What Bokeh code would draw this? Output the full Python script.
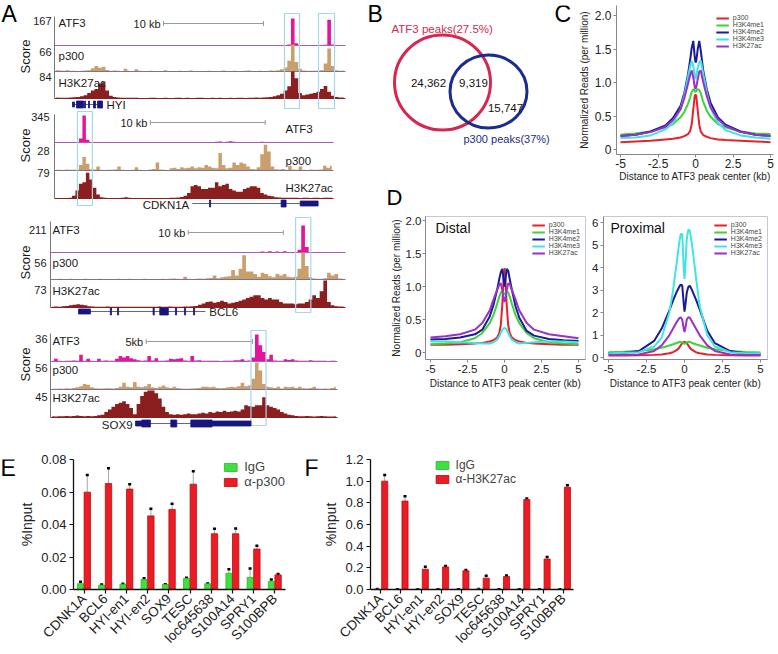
import math
import numpy as np
from bokeh.plotting import figure
from bokeh.models import (Range1d, FactorRange, Label, Legend, LegendItem, Whisker,
                          TeeHead, ColumnDataSource, FixedTicker, NumeralTickFormatter)
from bokeh.layouts import row, column
from bokeh.transform import dodge
from bokeh.embed import file_html
from bokeh.resources import INLINE
from bokeh.core.properties import value

FONT = "Liberation Sans"

# ---------------- Panel A data: coverage in 80 bins (% of track max) ----------------
track_names = ["ATF3", "p300", "H3K27ac"]
hyi_max = [167, 66, 84]
cdkn1a_max = [345, 28, 79]
bcl6_max = [211, 56, 73]
sox9_max = [36, 56, 45]

hyi_atf3 = [2,1,1,1,2,1,1,1,1,2, 1,1,1,1,2,1,1,1,1,1, 1,1,2,1,1,1,1,1,1,1, 1,2,1,1,1,1,1,1,1,1,
            1,1,1,2,1,1,1,1,1,1, 1,1,1,1,1,2,1,1,1,1, 1,1,1,1,4,100,8,2,1,1, 1,1,1,1,3,95,4,1,1,1]
hyi_p300 = [6,4,3,5,3,3,2,3,4,5, 12,20,14,18,6,3,4,3,2,10, 3,2,8,3,2,2,3,2,2,2, 5,2,2,2,3,2,2,4,2,2,
            2,2,3,2,2,2,4,2,2,3, 2,2,3,4,2,2,3,2,2,4, 3,5,8,15,40,100,35,10,4,3, 3,3,3,5,30,85,20,5,3,4]
hyi_k27ac = [4,3,3,3,4,5,6,8,12,20, 30,35,55,60,30,10,6,4,3,3, 3,3,3,2,2,2,3,3,2,2, 3,2,2,3,3,2,3,2,2,3,
             3,2,2,3,2,3,2,2,3,2, 3,3,2,3,3,4,3,4,5,6, 8,12,18,30,45,100,75,20,12,15, 18,20,25,35,46,25,10,6,4,4]

cdkn1a_atf3 = [1,1,1,1,1,2,1,15,100,10, 2,1,1,1,1,1,1,1,1,1, 1,1,1,1,1,1,1,1,1,1, 1,1,1,1,1,1,1,1,1,1,
               1,1,1,1,1,1,3,4,2,3, 5,3,2,2,1,1,1,1,2,3, 2,1,1,1,1,1,1,1,1,1, 1,1,1,1,1,1,1,1,1,1]
cdkn1a_p300 = [3,3,2,4,3,3,3,20,50,25, 5,4,15,3,2,3,3,4,15,3, 2,2,3,12,3,2,2,4,6,30, 4,3,2,8,10,6,12,8,10,15,
               8,12,10,20,15,10,8,65,20,8, 10,30,20,30,25,15,6,5,12,60, 95,70,15,5,4,6,3,18,4,3, 15,3,2,4,3,3,4,18,10,18]
cdkn1a_k27ac = [2,2,2,2,3,10,30,55,60,95, 70,40,15,5,3,2,2,2,2,3, 5,3,2,2,2,2,2,2,2,2, 2,2,2,3,3,4,6,10,20,45,
                50,45,35,35,40,40,60,45,50,55, 35,30,25,25,35,40,45,45,40,20, 15,10,8,5,4,3,3,3,3,3, 2,3,3,2,3,3,2,3,3,3]

bcl6_atf3 = [1,1,1,1,1,1,1,1,1,1, 1,1,1,1,1,1,1,1,1,1, 1,1,1,1,1,1,1,1,1,1, 1,1,1,1,1,1,1,1,1,1,
             1,1,1,1,1,1,1,1,2,1, 1,1,1,1,1,1,2,4,2,5, 2,4,2,5,1,1,2,10,100,20, 2,1,1,1,1,2,1,1,1,1]
bcl6_p300 = [2,2,3,2,2,3,2,2,2,3, 2,2,2,3,2,2,2,2,3,2, 2,3,2,2,2,3,2,2,2,2, 3,2,3,4,3,2,10,3,2,3,
             4,3,5,6,15,5,8,10,12,35, 15,40,90,30,30,20,10,25,20,12, 8,20,15,20,10,8,10,40,100,50, 8,4,3,3,5,25,15,20,4,3]
bcl6_k27ac = [3,4,3,5,6,8,10,12,10,8, 5,4,3,3,3,4,3,3,3,3, 3,3,3,3,3,3,3,3,3,4, 3,3,4,3,3,3,4,4,5,6,
              10,15,20,22,18,20,25,20,15,18, 20,25,30,35,40,45,45,35,30,35, 30,30,20,15,15,15,12,15,15,20, 30,45,35,60,100,20,8,5,4,4]

sox9_atf3 = [3,10,3,2,3,3,4,3,25,3, 10,3,2,10,3,4,3,3,10,20, 15,20,12,8,5,3,4,20,4,12, 3,3,4,10,8,10,12,4,3,20,
             4,5,3,3,3,3,3,2,3,3, 3,5,5,8,3,4,15,100,60,35, 8,25,4,3,3,8,6,8,4,3, 3,3,5,3,3,3,3,2,3,3]
sox9_p300 = [3,3,4,3,5,4,6,8,12,20, 18,8,5,4,4,5,5,4,6,10, 25,10,8,28,10,8,12,20,8,6, 10,15,8,6,10,6,4,3,3,4,
             5,6,10,10,8,10,6,5,6,8, 10,8,12,25,12,15,40,100,70,20, 10,8,6,10,4,10,8,10,6,10, 5,4,6,10,4,3,4,3,6,10]
sox9_k27ac = [5,4,5,5,6,5,6,7,6,5, 6,5,6,8,10,20,30,40,50,55, 60,50,35,12,50,80,95,100,100,90, 70,40,20,12,10,12,10,12,15,12,
              12,15,18,15,20,18,22,20,25,20, 22,25,22,30,45,42,40,45,45,75, 45,40,35,30,20,15,10,8,6,5, 5,6,5,4,5,6,5,4,4,5]

locus_window_kb = [29.1, 24.3, 31.05, 13.5]
scalebar_start_kb = [10.9, 8.35, 14.5, 4.5]
scalebar_kb = [10, 10, 10, 5]
scalebar_label = ["10 kb", "10 kb", "10 kb", "5kb"]

gene_names = ["HYI", "CDKN1A", "BCL6", "SOX9"]
hyi_gene_span = [1.8, 4.8]
hyi_exon_start = [1.8, 2.2, 3.0, 3.4, 3.9, 4.3]
hyi_exon_end = [2.0, 2.9, 3.1, 3.5, 4.1, 4.8]
hyi_exon_kind = ["utr", "cds", "cds", "cds", "cds", "cds"]
cdkn1a_gene_span = [12.0, 22.96]
cdkn1a_exon_start = [13.5, 19.74, 21.4]
cdkn1a_exon_end = [13.6, 20.17, 22.96]
cdkn1a_exon_kind = ["tick", "cds", "utr"]
bcl6_gene_span = [2.95, 16.3]
bcl6_exon_start = [2.95, 6.3, 7.05, 10.8, 11.5, 13.15, 14.1, 15.05]
bcl6_exon_end = [4.2, 6.42, 7.17, 10.92, 12.4, 13.27, 14.22, 15.17]
bcl6_exon_kind = ["utr", "tick", "tick", "tick", "cds", "tick", "tick", "tick"]
sox9_gene_span = [4.0, 9.43]
sox9_exon_start = [4.0, 4.3, 5.66, 6.6, 7.6]
sox9_exon_end = [4.3, 4.7, 5.94, 7.6, 9.43]
sox9_exon_kind = ["utr", "cds", "cds", "cds", "utr"]

hyi_highlight_kb = [[23.0, 24.5], [26.4, 28.0]]
cdkn1a_highlight_kb = [[2.0, 3.3]]
bcl6_highlight_kb = [[25.8, 27.4]]
sox9_highlight_kb = [[9.43, 10.14]]

# ---------------- Panel B data ----------------
venn_counts = [24362, 9319, 15747]
venn_labels = ["ATF3 peaks(27.5%)", "p300 peaks(37%)"]

# ---------------- Panels C / D data ----------------
profile_names = ["p300", "H3K4me1", "H3K4me2", "H3K4me3", "H3K27ac"]
dist_kb = [-5, -4, -3, -2, -1.5, -1, -0.75, -0.5, -0.35, -0.25, -0.15, -0.05, 0,
           0.05, 0.15, 0.25, 0.35, 0.5, 0.75, 1, 1.5, 2, 3, 4, 5]
all_p300 = [0.11,0.12,0.13,0.15,0.16,0.18,0.2,0.23,0.28,0.38,0.6,0.8,0.82,0.8,0.58,0.37,0.27,0.22,0.19,0.17,0.15,0.14,0.13,0.12,0.11]
all_me1 = [0.22,0.24,0.27,0.33,0.38,0.48,0.56,0.68,0.78,0.86,0.9,0.87,0.86,0.87,0.9,0.89,0.84,0.72,0.58,0.49,0.38,0.33,0.27,0.24,0.23]
all_me2 = [0.2,0.22,0.27,0.36,0.47,0.65,0.84,1.12,1.35,1.52,1.62,1.38,1.3,1.32,1.5,1.62,1.48,1.2,0.9,0.7,0.48,0.37,0.27,0.22,0.2]
all_me3 = [0.17,0.18,0.21,0.3,0.4,0.6,0.8,1.08,1.25,1.32,1.25,1.1,1.05,1.1,1.22,1.3,1.33,1.15,0.85,0.62,0.4,0.29,0.21,0.18,0.16]
all_ac = [0.2,0.22,0.26,0.34,0.44,0.6,0.76,0.98,1.12,1.18,1.08,0.93,0.9,0.93,1.05,1.16,1.18,1.02,0.8,0.63,0.45,0.35,0.26,0.22,0.2]

distal_p300 = [0.12,0.12,0.13,0.14,0.15,0.17,0.19,0.23,0.3,0.42,0.72,1.15,1.28,1.15,0.72,0.42,0.3,0.23,0.19,0.17,0.15,0.14,0.13,0.12,0.12]
distal_me1 = [0.13,0.14,0.16,0.22,0.3,0.45,0.57,0.74,0.85,0.91,0.93,0.9,0.88,0.9,0.93,0.91,0.85,0.74,0.57,0.45,0.3,0.22,0.16,0.14,0.13]
distal_me2 = [0.2,0.21,0.23,0.28,0.35,0.55,0.72,0.95,1.12,1.22,1.27,1.08,1.0,1.08,1.27,1.24,1.12,0.95,0.7,0.53,0.33,0.26,0.21,0.19,0.18]
distal_me3 = [0.17,0.17,0.16,0.15,0.14,0.14,0.16,0.2,0.25,0.3,0.35,0.37,0.37,0.37,0.35,0.3,0.25,0.2,0.16,0.14,0.15,0.16,0.17,0.17,0.16]
distal_ac = [0.23,0.25,0.28,0.35,0.45,0.64,0.8,0.95,1.03,1.05,0.95,0.8,0.77,0.8,0.95,1.05,1.04,0.95,0.8,0.64,0.45,0.35,0.28,0.25,0.22]

prox_p300 = [0.1,0.1,0.11,0.13,0.15,0.2,0.25,0.35,0.45,0.55,0.65,0.7,0.7,0.7,0.65,0.55,0.45,0.35,0.25,0.2,0.15,0.13,0.11,0.1,0.1]
prox_me1 = [0.25,0.27,0.3,0.38,0.45,0.55,0.6,0.66,0.7,0.71,0.68,0.64,0.62,0.64,0.68,0.71,0.7,0.66,0.6,0.55,0.45,0.38,0.3,0.26,0.24]
prox_me2 = [0.2,0.22,0.3,0.75,1.3,2.1,2.55,2.95,3.15,3.25,3.22,2.4,2.05,2.3,2.9,3.15,3.2,3.0,2.6,2.15,1.2,0.65,0.3,0.2,0.17]
prox_me3 = [0.2,0.22,0.25,0.5,0.9,2.0,3.0,4.3,5.1,5.5,5.5,4.0,3.5,4.0,5.3,5.7,5.65,5.0,3.6,2.3,1.0,0.5,0.25,0.2,0.2]
prox_ac = [0.12,0.13,0.15,0.3,0.55,1.0,1.3,1.6,1.75,1.8,1.7,1.3,1.15,1.3,1.7,1.8,1.78,1.6,1.3,1.0,0.55,0.3,0.15,0.13,0.12]

# ---------------- Panels E / F data ----------------
chip_sites = ["CDNK1A", "BCL6", "HYI-en1", "HYI-en2", "SOX9", "TESC", "loc645638", "S100A14", "SPRY1", "S100BPB"]
e_igg = [0.0036, 0.0027, 0.0033, 0.0061, 0.0031, 0.0069, 0.0035, 0.0100, 0.0075, 0.0050]
e_igg_err = [0.0012, 0.0004, 0.0002, 0.0008, 0.0002, 0.0004, 0.0002, 0.0025, 0.0054, 0.0011]
e_p300 = [0.0599, 0.0652, 0.0618, 0.0453, 0.0493, 0.0648, 0.0343, 0.0343, 0.0249, 0.0090]
e_p300_err = [0.0105, 0.0094, 0.0029, 0.0044, 0.0035, 0.0079, 0.0031, 0.0033, 0.0021, 0.0006]
f_igg = [0.004, 0.003, 0.003, 0.003, 0.003, 0.004, 0.003, 0.003, 0.003, 0.003]
f_igg_err = [0.0, 0.0, 0.0, 0.0, 0.0, 0.0, 0.0, 0.0, 0.0, 0.0]
f_k27ac = [1.0, 0.816, 0.187, 0.208, 0.172, 0.105, 0.12, 0.83, 0.281, 0.944]
f_k27ac_err = [0.058, 0.044, 0.023, 0.008, 0.008, 0.021, 0.009, 0.009, 0.019, 0.018]

# ---------------- styles ----------------
TRACK_FILL = ["#e3169b", "#c9a06c", "#8b1e1e"]
TRACK_BASE = ["#a55cbc", "#7d7390", "#8b1e1e"]
PROFILE_COLORS = ["#e8202a", "#3ad43a", "#1b1b96", "#3fe4e4", "#9b30c8"]
RED_BAR, GREEN_BAR = "#ed1c24", "#3ee03e"
YLABEL_D = "Normalized Reads (per million)"


def lin(p, p0, v0, p1, v1):
    return v0 + (p - p0) * (v1 - v0) / (p1 - p0)


def base_fig(box, frame, x_range, y_range, **kw):
    bx0, by0, bx1, by1 = box
    fx0, fy0, fx1, fy1 = frame
    p = figure(width=round(bx1) - round(bx0), height=round(by1) - round(by0),
               x_range=x_range, y_range=y_range,
               output_backend="svg", toolbar_location=None,
               min_border_left=round(fx0 - bx0), min_border_right=round(bx1 - fx1),
               min_border_top=round(fy0 - by0), min_border_bottom=round(by1 - fy1), **kw)
    p.grid.visible = False
    return p


def plain_fig(box, frame=None):
    frame = frame or box
    p = base_fig(box, frame, Range1d(frame[0], frame[2]), Range1d(frame[3], frame[1]),
                 x_axis_location=None, y_axis_location=None)
    p.outline_line_color = None
    return p


def style_axes(p, color="#888888", tick_size="12px", label_size="10px"):
    for ax in p.axis:
        ax.axis_line_color = color
        ax.major_tick_line_color = color
        ax.minor_tick_line_color = None
        ax.major_tick_in = 0
        ax.major_tick_out = 3
        ax.major_label_standoff = 2
        ax.axis_label_standoff = 2
        ax.major_label_text_font = FONT
        ax.axis_label_text_font = FONT
        ax.axis_label_text_font_style = "normal"
        ax.major_label_text_font_size = tick_size
        ax.axis_label_text_font_size = label_size
        ax.major_label_text_color = "#222222"
        ax.axis_label_text_color = "#222222"


def txt(p, xs, ys, texts, size, align="left", color="#1a1a1a", angle=0.0, baseline="middle", **kw):
    p.text(x=xs, y=ys, text=texts, text_font=value(FONT), text_font_size=size,
           text_align=align, text_baseline=baseline, text_color=color, angle=angle, **kw)


def letter(p, ch, x, cap_top, size="23px", half=8.5):
    txt(p, [x], [cap_top + half], [ch], size, color="black")


# =================== Panel A ===================
boxA = (0, 0, 386, 440)
pA = plain_fig(boxA)
NB = 80
TRACK_PX = 27.0
EXON_H = {"cds": 7.0, "utr": 5.0, "tick": 7.0}

loci = [
    dict(tracks=(hyi_atf3, hyi_p300, hyi_k27ac), maxes=hyi_max, left=54, right=345,
         base=(45, 71, 98), max_x=51, max_y=(20, 51, 76), name_x=58, name_y=(22, 55, 82),
         score_y=56, axis_top=16, bar_y=23, gene_y=104, gene_label="right",
         span=hyi_gene_span, es=hyi_exon_start, ee=hyi_exon_end, ek=hyi_exon_kind,
         boxes=hyi_highlight_kb, box_y=(13, 108)),
    dict(tracks=(cdkn1a_atf3, cdkn1a_p300, cdkn1a_k27ac), maxes=cdkn1a_max, left=54, right=333,
         base=(142, 170, 198), max_x=49, max_y=(116, 150, 172), name_x=285, name_y=(128, 160, 187),
         score_y=145, axis_top=114, bar_y=122, gene_y=203, gene_label="left",
         span=cdkn1a_gene_span, es=cdkn1a_exon_start, ee=cdkn1a_exon_end, ek=cdkn1a_exon_kind,
         boxes=cdkn1a_highlight_kb, box_y=(111, 205)),
    dict(tracks=(bcl6_atf3, bcl6_p300, bcl6_k27ac), maxes=bcl6_max, left=50, right=345,
         base=(252, 279, 307), max_x=46, max_y=(229, 262, 289), name_x=52, name_y=(229, 262, 290),
         score_y=262, axis_top=221, bar_y=232, gene_y=311, gene_label="right",
         span=bcl6_gene_span, es=bcl6_exon_start, ee=bcl6_exon_end, ek=bcl6_exon_kind,
         boxes=bcl6_highlight_kb, box_y=(217, 312)),
    dict(tracks=(sox9_atf3, sox9_p300, sox9_k27ac), maxes=sox9_max, left=50, right=337,
         base=(361, 389, 417), max_x=47, max_y=(338, 367, 396), name_x=52, name_y=(340, 369, 397),
         score_y=364, axis_top=333, bar_y=341, gene_y=423, gene_label="left",
         span=sox9_gene_span, es=sox9_exon_start, ee=sox9_exon_end, ek=sox9_exon_kind,
         boxes=sox9_highlight_kb, box_y=(330, 425)),
]

for k, L in enumerate(loci):
    win = locus_window_kb[k]
    xr = f"lx{k}"
    span = 386.0 / (L["right"] - L["left"]) * win
    a = -L["left"] / 386.0 * span
    pA.extra_x_ranges[xr] = Range1d(a, a + span)
    centers = (np.arange(NB) + 0.5) * win / NB
    tot = 100.0 * 440.0 / TRACK_PX
    for t in range(3):
        yb = L["base"][t]
        yr = f"ly{k}{t}"
        e = yb * 100.0 / TRACK_PX
        pA.extra_y_ranges[yr] = Range1d(e - tot, e)
        pA.varea_step(x=centers, y1=0, y2=L["tracks"][t], step_mode="center",
                      fill_color=TRACK_FILL[t], x_range_name=xr, y_range_name=yr)
        pA.line(x=[0, win], y=[0, 0], line_color=TRACK_BASE[t], line_width=1.2,
                x_range_name=xr, y_range_name=yr)
    pA.segment(x0=[0], y0=[L["axis_top"]], x1=[0], y1=[L["base"][2]],
               line_color="#777777", line_width=1, x_range_name=xr)
    txt(pA, [L["max_x"]] * 3, list(L["max_y"]), [str(m) for m in L["maxes"]], "11px", align="right")
    txt(pA, [L["name_x"]] * 3, list(L["name_y"]), track_names, "11.5px")
    txt(pA, [25], [L["score_y"]], ["Score"], "13px", align="center", angle=math.pi / 2)
    s0 = scalebar_start_kb[k]
    s1 = s0 + scalebar_kb[k]
    by = L["bar_y"]
    pA.segment(x0=[s0], y0=[by], x1=[s1], y1=[by], line_color="#9a9a9a", line_width=1, x_range_name=xr)
    pA.segment(x0=[s0, s1], y0=[by - 2.5, by - 2.5], x1=[s0, s1], y1=[by + 2.5, by + 2.5],
               line_color="#9a9a9a", line_width=1, x_range_name=xr)
    txt(pA, [s0], [by], [scalebar_label[k]], "11px", align="right", x_offset=-3, x_range_name=xr)
    pA.quad(left=[b[0] for b in L["boxes"]], right=[b[1] for b in L["boxes"]],
            top=[L["box_y"][0]] * len(L["boxes"]), bottom=[L["box_y"][1]] * len(L["boxes"]),
            fill_color=None, line_color="#a6d6ea", line_width=1.2, x_range_name=xr)
    gy = L["gene_y"]
    pA.segment(x0=[L["span"][0]], y0=[gy], x1=[L["span"][1]], y1=[gy],
               line_color="#6060b8", line_width=1.2, x_range_name=xr)
    hs = [EXON_H[kd] for kd in L["ek"]]
    pA.quad(left=L["es"], right=L["ee"], top=[gy - h / 2 for h in hs], bottom=[gy + h / 2 for h in hs],
            fill_color="#16167e", line_color="#16167e", line_width=0.8, x_range_name=xr)
    if L["gene_label"] == "right":
        txt(pA, [L["span"][1]], [gy], [gene_names[k]], "11.5px", x_offset=4, x_range_name=xr)
    else:
        txt(pA, [L["span"][0]], [gy + 1], [gene_names[k]], "11.5px", align="right", x_offset=-3,
            x_range_name=xr)

letter(pA, "A", 1, 5)
letter(pA, "B", 367, 5)

# =================== Panel B (also carries letter C) ===================
boxB = (386, 0, 572, 184)
frameB = (386, 5, 572, 154)
pB = plain_fig(boxB, frameB)
pB.ellipse(x=[442], y=[82], width=[96], height=[95], fill_color=None,
           line_color="#d7264f", line_width=3)
pB.ellipse(x=[488], y=[91], width=[77], height=[73], fill_color=None,
           line_color="#1c2c8c", line_width=3)
txt(pB, [428, 473, 505], [82, 82, 107], [f"{n:,}" for n in venn_counts], "11.5px",
    align="center", color="#111111")
txt(pB, [391], [28], [venn_labels[0]], "11.5px", color="#d7264f")
txt(pB, [463], [138], [venn_labels[1]], "11px", color="#1c2c8c")
letter(pB, "C", 554, 5)


# =================== profile helper ===================
def profile_panel(p, series, legend_margin):
    rs = []
    for vals, col in zip(series, PROFILE_COLORS):
        rs.append(p.line(dist_kb, vals, line_color=col, line_width=2))
    items = [LegendItem(label=n, renderers=[r]) for n, r in zip(profile_names, rs)]
    leg = Legend(items=items, location="top_right", label_text_font=FONT,
                 label_text_font_size="7px", glyph_height=6, glyph_width=13, label_height=6,
                 spacing=0, padding=1, margin=legend_margin, border_line_color=None,
                 background_fill_alpha=0, label_standoff=4)
    p.add_layout(leg)
    p.xaxis.ticker = FixedTicker(ticks=[-5, -2.5, 0, 2.5, 5])
    p.xaxis.formatter = NumeralTickFormatter(format="0.[0]")


# =================== Panel C ===================
boxC = (572, 0, 778, 184)
frameC = (616, 5, 773, 154)
xmC = (620, -5, 770, 5)
ymC = (149, 0, 15, 2)
pC = base_fig(boxC, frameC, Range1d(lin(616, *xmC), lin(773, *xmC)),
              Range1d(lin(154, *ymC), lin(5, *ymC)))
pC.outline_line_color = None
profile_panel(pC, [all_p300, all_me1, all_me2, all_me3, all_ac], 9)
pC.yaxis.ticker = FixedTicker(ticks=[0, 0.5, 1, 1.5, 2])
pC.yaxis.formatter = NumeralTickFormatter(format="0.0")
pC.yaxis.major_label_overrides = {0: "0"}
pC.xaxis.axis_label = "Distance to ATF3 peak center (kb)"
pC.yaxis.axis_label = "Normalized Reads (per million)"
style_axes(pC)
pC.xaxis.major_label_standoff = 1
pC.xaxis.axis_label_standoff = 0

# =================== letter D strip ===================
boxDl = (386, 184, 778, 210)
pDl = plain_fig(boxDl)
letter(pDl, "D", 386, 189, size="22px", half=8)

# =================== Panel D ===================
boxDy = (386, 210, 402, 440)
frameDy = (386, 216, 402, 359)
pDy = plain_fig(boxDy, frameDy)
txt(pDy, [396], [287.5], [YLABEL_D], "10px", align="center", color="#222222", angle=math.pi / 2)

boxDd = (402, 210, 588, 440)
frameDd = (425, 216, 585, 359)
xmDd = (430, -5, 578, 5)
ymDd = (352.3, 0, 220, 2)
pDd = base_fig(boxDd, frameDd, Range1d(lin(425, *xmDd), lin(585, *xmDd)),
               Range1d(lin(359, *ymDd), lin(216, *ymDd)))
pDd.outline_line_color = "#c4c8d8"
profile_panel(pDd, [distal_p300, distal_me1, distal_me2, distal_me3, distal_ac], 5)
pDd.yaxis.ticker = FixedTicker(ticks=[0, 0.5, 1, 1.5, 2])
pDd.yaxis.formatter = NumeralTickFormatter(format="0.0")
pDd.yaxis.major_label_overrides = {0: "0"}
pDd.xaxis.axis_label = "Distance to ATF3 peak center (kb)"
style_axes(pDd, tick_size="11.5px")
pDd.yaxis.major_label_standoff = 1
pDd.add_layout(Label(x=lin(435, *xmDd), y=lin(227, *ymDd), text="Distal", text_font=FONT,
                     text_font_size="14px", text_baseline="middle", text_color="#111111"))

boxDp = (588, 210, 778, 440)
frameDp = (603, 216, 767, 359)
xmDp = (608, -5, 760, 5)
ymDp = (357.3, 0, 222.3, 6)
pDp = base_fig(boxDp, frameDp, Range1d(lin(603, *xmDp), lin(767, *xmDp)),
               Range1d(lin(359, *ymDp), lin(216, *ymDp)))
pDp.outline_line_color = "#c4c8d8"
profile_panel(pDp, [prox_p300, prox_me1, prox_me2, prox_me3, prox_ac], 5)
pDp.yaxis.ticker = FixedTicker(ticks=[0, 1, 2, 3, 4, 5, 6])
pDp.xaxis.axis_label = "Distance to ATF3 peak center (kb)"
style_axes(pDp, tick_size="11.5px")
pDp.add_layout(Label(x=lin(610, *xmDp), y=lin(227, *ymDp), text="Proximal", text_font=FONT,
                     text_font_size="14px", text_baseline="middle", text_color="#111111"))


# =================== bar helper ===================
def bar_panel(p, igg, igg_err, ab, ab_err, ab_label, offs, legend_loc, leg_size):
    src = ColumnDataSource(dict(cat=chip_sites, igg=igg, igg_up=[v + e for v, e in zip(igg, igg_err)],
                                ab=ab, ab_up=[v + e for v, e in zip(ab, ab_err)]))
    g = p.vbar(x=dodge("cat", offs[0], range=p.x_range), top="igg", width=0.28, source=src,
               fill_color=GREEN_BAR, line_color="#28b828", line_width=0.8)
    r = p.vbar(x=dodge("cat", offs[1], range=p.x_range), top="ab", width=0.3, source=src,
               fill_color=RED_BAR, line_color="#b01010", line_width=0.8)
    for base_off, lo, hi in ((offs[0], "igg", "igg_up"), (offs[1], "ab", "ab_up")):
        p.add_layout(Whisker(source=src, base=dodge("cat", base_off, range=p.x_range),
                             lower=lo, upper=hi, line_color="#a8a8a8", line_width=1,
                             upper_head=TeeHead(size=3, line_color="black", line_width=2.5),
                             lower_head=None))
    leg = Legend(items=[LegendItem(label="IgG", renderers=[g]), LegendItem(label=ab_label, renderers=[r])],
                 location=legend_loc, label_text_font=FONT, label_text_font_size=leg_size,
                 glyph_width=16, glyph_height=10, label_height=10, spacing=0, padding=2, margin=0,
                 border_line_color=None, background_fill_alpha=0, label_standoff=6)
    p.add_layout(leg)
    p.yaxis.axis_label = "%Input"
    style_axes(p, color="#111111", tick_size="13px", label_size="14px")
    for ax in p.axis:
        ax.axis_line_width = 1.3
        ax.major_tick_line_width = 1.2
        ax.major_tick_out = 4
        ax.major_label_standoff = 3
        ax.axis_label_standoff = 3
    p.xaxis.major_label_orientation = math.pi / 4
    p.xaxis.major_label_text_font_size = "13.5px"
    p.outline_line_color = None


# =================== Panel E ===================
boxEl = (0, 440, 16, 654)
pEl = plain_fig(boxEl, (0, 459, 16, 597))
letter(pEl, "E", 0, 459)

boxE = (16, 440, 300, 654)
frameE = (66, 459, 285, 597)
pE = base_fig(boxE, frameE, FactorRange(factors=chip_sites, range_padding=0), Range1d(0, 0.08))
bar_panel(pE, e_igg, e_igg_err, e_p300, e_p300_err, "α-p300", (-0.17, 0.15), "top_right", "13px")
pE.yaxis.ticker = FixedTicker(ticks=[0, 0.02, 0.04, 0.06, 0.08])
pE.yaxis.formatter = NumeralTickFormatter(format="0.00")

# =================== Panel F ===================
boxFl = (300, 440, 320, 654)
pFl = plain_fig(boxFl, (300, 459, 320, 597))
letter(pFl, "F", 304, 459)

boxF = (320, 440, 778, 654)
frameF = (361.4, 459, 573.4, 597)
pF = base_fig(boxF, frameF, FactorRange(factors=chip_sites, range_padding=0), Range1d(0, 1.2))
bar_panel(pF, f_igg, f_igg_err, f_k27ac, f_k27ac_err, "α-H3K27ac", (-0.17, 0.2),
          (427 - 2 - 361.4, 103), "12px")
pF.yaxis.ticker = FixedTicker(ticks=[0, 0.2, 0.4, 0.6, 0.8, 1.0, 1.2])
pF.yaxis.formatter = NumeralTickFormatter(format="0.0")

layout = column(row(pA, column(row(pB, pC), pDl, row(pDy, pDd, pDp))), row(pEl, pE, pFl, pF))
open("out.html", "w").write(file_html(layout, INLINE))
